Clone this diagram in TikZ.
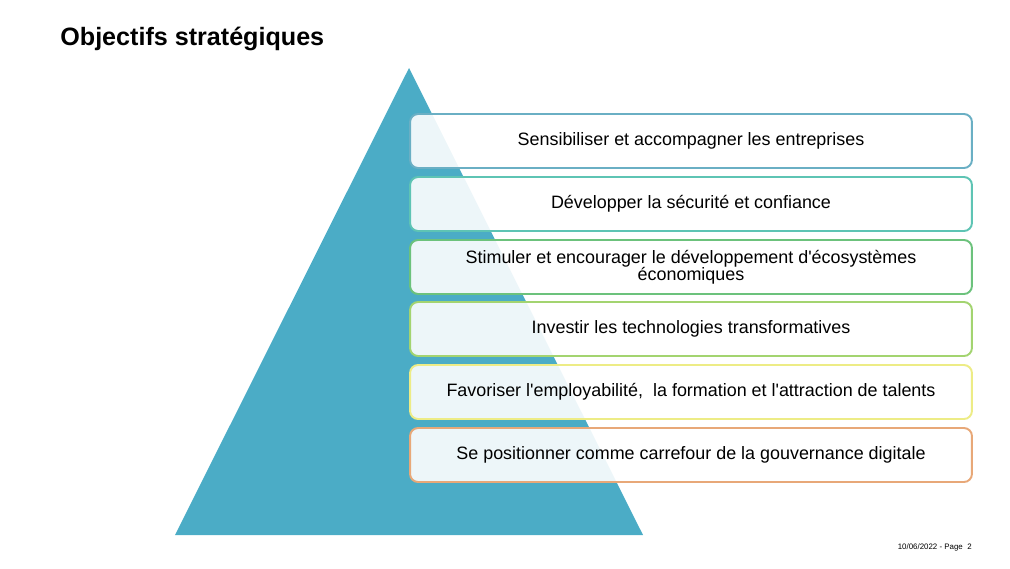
\documentclass[tikz,border=0pt]{standalone}
\usepackage{fontspec}
\setmainfont{Liberation Sans}
\usetikzlibrary{positioning}

\definecolor{pyramid}{HTML}{4BACC6}
\definecolor{lineA}{HTML}{6AAFC4}
\definecolor{lineB}{HTML}{5EC4B4}
\definecolor{lineC}{HTML}{6CC27C}
\definecolor{lineD}{HTML}{A3D470}
\definecolor{lineE}{HTML}{EDEC86}
\definecolor{lineF}{HTML}{E8A878}

\begin{document}
\begin{tikzpicture}[x=0.02cm, y=-0.02cm,
        goal/.style={draw, line width=1.1pt, rounded corners=0.16cm,
            fill=white, fill opacity=0.9, text opacity=1,
            minimum width=11.24cm, minimum height=1.08cm,
            align=center, font=\fontsize{10.2}{9.8}\selectfont}]
        \useasboundingbox (0, 0) rectangle (1010, 568);

        \node[anchor=base west, inner sep=0, font=\fontsize{14.3}{16}\selectfont\bfseries] (title) at (60, 45) {Objectifs stratégiques};

        % pyramide
        \fill[pyramid] (409, 68) -- (175, 535) -- (643, 535) -- cycle;

        \node[goal, draw=lineA] (sensib) at (691, 141) {Sensibiliser et accompagner les entreprises};
        \node[goal, draw=lineB] (secur) at (691, 204) {Développer la sécurité et confiance};
        \node[goal, draw=lineC] (ecosys) at (691, 267) {Stimuler et encourager le développement d\textquotesingle écosystèmes\\économiques};
        \node[goal, draw=lineD] (techno) at (691, 329) {Investir les technologies transformatives};
        \node[goal, draw=lineE] (talents) at (691, 392) {Favoriser l\textquotesingle employabilité,\ \ la formation et l\textquotesingle attraction de talents};
        \node[goal, draw=lineF] (gouv) at (691, 455) {Se positionner comme carrefour de la gouvernance digitale};

        \node[anchor=base east, inner sep=0, font=\fontsize{4.5}{5}\selectfont] (page) at (972, 549) {10/06/2022 - Page\ \ 2};
    \end{tikzpicture}
\end{document}
